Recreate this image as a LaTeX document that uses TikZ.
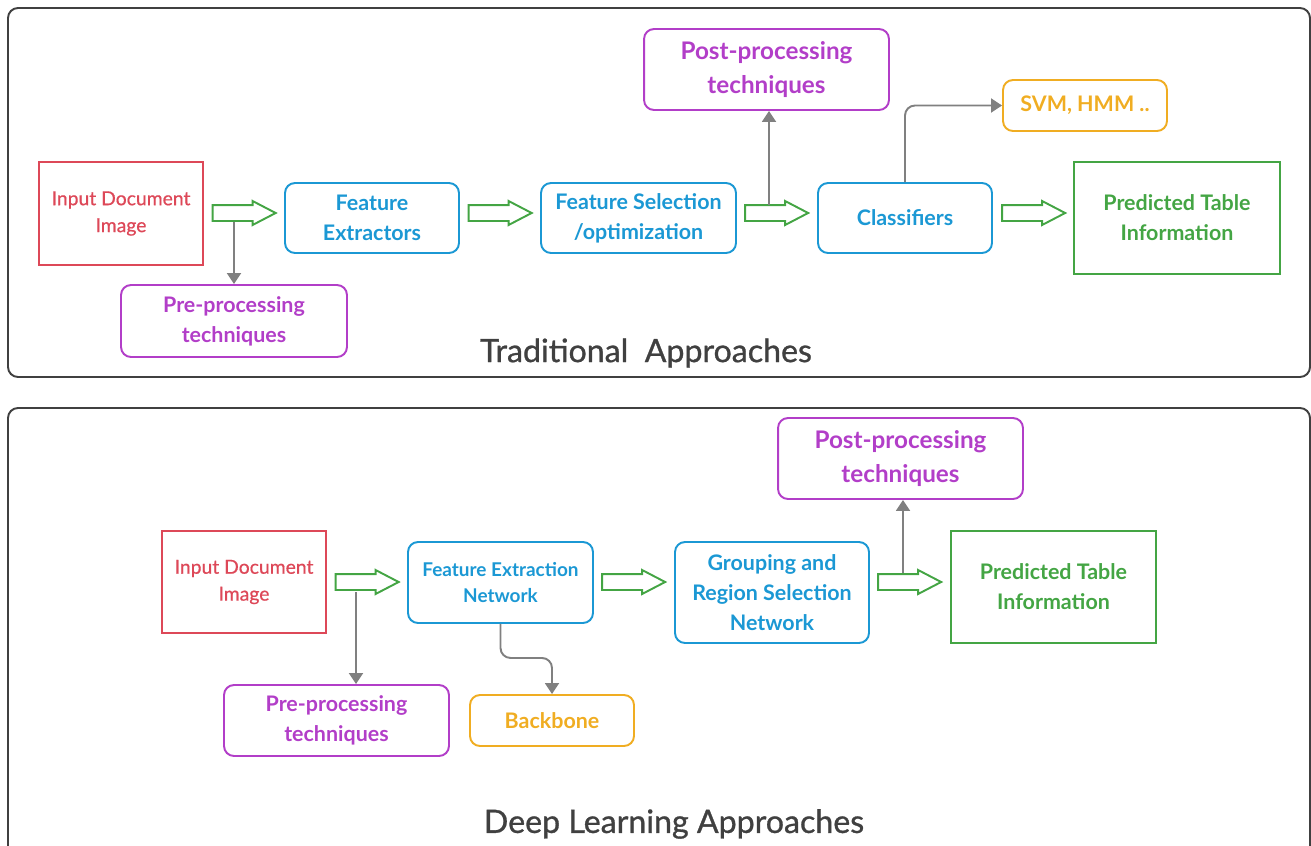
\documentclass[tikz,border=0pt]{standalone}
\usepackage{fontspec}
\setmainfont{Lato}
\usepackage{xcolor}
\usepackage{tikz}
\usetikzlibrary{
	arrows.meta,shapes.arrows
}

\definecolor{inred}{RGB}{221,72,88}
\definecolor{stepblue}{RGB}{27,152,212}
\definecolor{techpurple}{RGB}{178,62,200}
\definecolor{clsorange}{RGB}{240,173,34}
\definecolor{outgreen}{RGB}{68,165,68}
\definecolor{linkgray}{RGB}{128,128,128}
\definecolor{framegray}{RGB}{64,64,64}

\tikzset{
	plainbox/.style={draw,line width=1.1pt,align=center,inner sep=0pt},
	roundbox/.style={plainbox,rounded corners=0.2cm},
	bigarrow/.style={single arrow,draw=outgreen,line width=1.1pt,minimum height=1.26cm,
		inner sep=0.14cm,single arrow head extend=0.08cm,single arrow tip angle=55},
	grayline/.style={draw=linkgray,line width=1.1pt,-{Triangle[length=0.22cm,width=0.28cm]}},
	boxtext/.style={font=\bfseries\fontsize{12.2}{17}\selectfont},
	posttext/.style={font=\bfseries\fontsize{13.8}{19}\selectfont},
	intext/.style={font=\addfontfeature{FakeBold=0.6}\fontsize{11}{15.3}\selectfont},
	titletext/.style={text=framegray,font=\addfontfeature{FakeBold=0.9}\fontsize{18.3}{22}\selectfont}
}

\begin{document}
\begin{tikzpicture}[x=0.02cm,y=-0.02cm]
\useasboundingbox (0,0) rectangle (1311,845);
\draw[framegray,line width=1.1pt,rounded corners=0.2cm] (8,8) rectangle (1310,377);
\draw[framegray,line width=1.1pt,rounded corners=0.2cm] (8,850) -- (8,408) -- (1310,408) -- (1310,850);
%
% traditional approaches
\node[plainbox,draw=inred,text=inred,intext,minimum width=3.28cm,minimum height=2.06cm] (inp1) at (121,213.5) {Input Document\\Image};
\node[roundbox,draw=techpurple,text=techpurple,boxtext,minimum width=4.52cm,minimum height=1.44cm] (pre1) at (234,321) {Pre-processing\\techniques};
\node[roundbox,draw=stepblue,text=stepblue,boxtext,minimum width=3.48cm,minimum height=1.4cm] (fe1) at (372,218) {Feature\\Extractors};
\node[roundbox,draw=stepblue,text=stepblue,boxtext,minimum width=3.9cm,minimum height=1.4cm] (fs1) at (638.5,218) {Feature Selection\\/optimization};
\node[roundbox,draw=techpurple,text=techpurple,posttext,minimum width=4.9cm,minimum height=1.62cm] (post1) at (766.5,69.5) {Post-processing\\techniques};
\node[roundbox,draw=stepblue,text=stepblue,boxtext,minimum width=3.48cm,minimum height=1.4cm] (cls1) at (905,218) {Classifiers};
\node[roundbox,draw=clsorange,text=clsorange,boxtext,minimum width=3.28cm,minimum height=1.02cm] (svm1) at (1085,105.5) {SVM, HMM ..};
\node[plainbox,draw=outgreen,text=outgreen,boxtext,minimum width=4.12cm,minimum height=2.24cm] (pred1) at (1177,218) {Predicted Table\\Information};
\node[titletext] (title1) at (646,353) {Traditional\ \ Approaches};
%
\node[bigarrow] (ar1) at (236.5,213) {};
\node[bigarrow] (ar2) at (492.5,213) {};
\node[bigarrow] (ar3) at (769,213) {};
\node[bigarrow] (ar4) at (1026,213) {};
%
\coordinate (c1) at (234,222);
\coordinate (c3) at (769,205);
\draw[grayline] (c1) -- (c1 |- pre1.north);
\draw[grayline] (c3) -- (c3 |- post1.south);
\draw[grayline,rounded corners=0.2cm] (cls1.north) |- (svm1.west);
%
% deep learning approaches
\node[plainbox,draw=inred,text=inred,intext,minimum width=3.28cm,minimum height=2.04cm] (inp2) at (244,582) {Input Document\\Image};
\node[roundbox,draw=techpurple,text=techpurple,boxtext,minimum width=4.5cm,minimum height=1.42cm] (pre2) at (336.5,720.5) {Pre-processing\\techniques};
\node[roundbox,draw=stepblue,text=stepblue,font=\bfseries\fontsize{10.8}{15}\selectfont,minimum width=3.7cm,minimum height=1.62cm] (fen2) at (500.5,582.5) {Feature Extraction\\Network};
\node[roundbox,draw=clsorange,text=clsorange,boxtext,minimum width=3.28cm,minimum height=1.02cm] (bb2) at (552,720.5) {Backbone};
\node[roundbox,draw=stepblue,text=stepblue,boxtext,minimum width=3.88cm,minimum height=2.02cm] (grp2) at (772,592.5) {Grouping and\\Region Selection\\Network};
\node[roundbox,draw=techpurple,text=techpurple,posttext,minimum width=4.9cm,minimum height=1.62cm] (post2) at (900.5,458.5) {Post-processing\\techniques};
\node[plainbox,draw=outgreen,text=outgreen,boxtext,minimum width=4.1cm,minimum height=2.24cm] (pred2) at (1053.5,587) {Predicted Table\\Information};
\node[titletext] (title2) at (674,824) {Deep Learning Approaches};
%
\node[bigarrow] (ar5) at (359.5,582) {};
\node[bigarrow] (ar6) at (626,582) {};
\node[bigarrow] (ar7) at (902,582) {};
%
\coordinate (c5) at (356,592);
\coordinate (c7) at (903,573);
\draw[grayline] (c5) -- (c5 |- pre2.north);
\draw[grayline] (c7) -- (c7 |- post2.south);
\draw[grayline,rounded corners=0.2cm] (fen2.south) -- ++(0,34) -| (bb2.north);
\end{tikzpicture}
\end{document}
